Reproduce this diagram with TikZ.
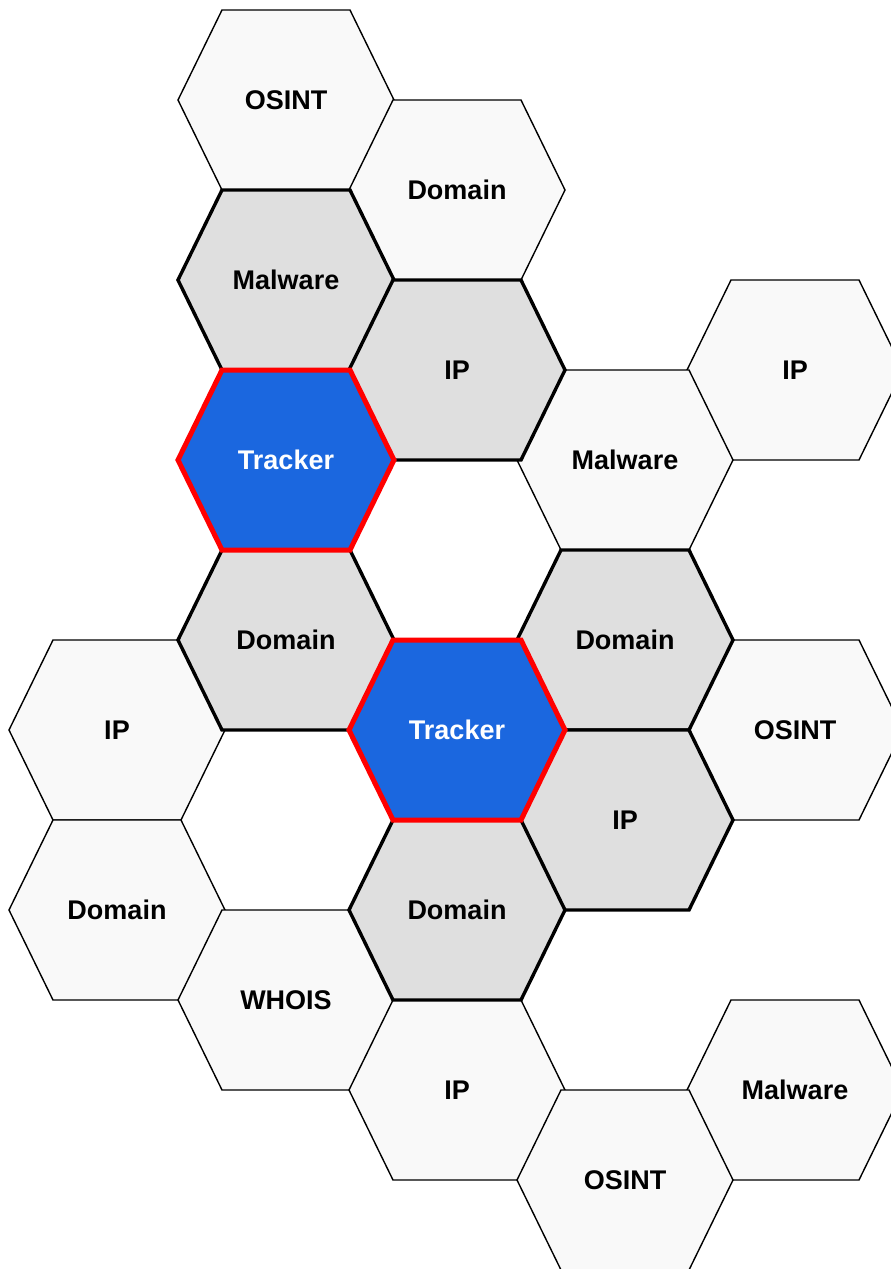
\documentclass[tikz,border=0pt]{standalone}
\usepackage{fontspec}
\setmainfont{Liberation Sans}
\definecolor{lightfill}{HTML}{F9F9F9}
\definecolor{grayfill}{HTML}{DFDFDF}
\definecolor{trackblue}{HTML}{1B67DF}
\definecolor{trackred}{HTML}{FF0000}
\tikzset{
  lighthex/.style={draw=black, fill=lightfill, line width=1.4pt, line join=miter},
  grayhex/.style={draw=black, fill=grayfill, line width=3.4pt, line join=miter},
  trackhex/.style={draw=trackred, fill=trackblue, line width=5pt, line join=miter},
  lbl/.style={font=\fontsize{27}{31}\selectfont\bfseries, text=black, inner sep=0pt},
  trklbl/.style={lbl, text=white},
}
% #1 name, #2 x, #3 y, #4 hex style, #5 label style, #6 text
\newcommand\hexcell[6]{%
  \begin{scope}[shift={(#2,#3)}]
    \draw[#4] (-108,0) -- (-64,-90) -- (64,-90) -- (108,0) -- (64,90) -- (-64,90) -- cycle;
    \node[#5] (#1) at (0,0) {#6};
  \end{scope}}
\begin{document}
\begin{tikzpicture}[x=1pt,y=-1pt]
\useasboundingbox (0,0) rectangle (891,1269);
\clip (0,0) rectangle (891,1269);
% light cells
\hexcell{osintA}{286}{100}{lighthex}{lbl}{OSINT}
\hexcell{domainA}{457}{190}{lighthex}{lbl}{Domain}
\hexcell{ipR}{795}{370}{lighthex}{lbl}{IP}
\hexcell{malwareR}{625}{460}{lighthex}{lbl}{Malware}
\hexcell{osintR}{795}{730}{lighthex}{lbl}{OSINT}
\hexcell{ipL}{117}{730}{lighthex}{lbl}{IP}
\hexcell{domainL}{117}{910}{lighthex}{lbl}{Domain}
\hexcell{whois}{286}{1000}{lighthex}{lbl}{WHOIS}
\hexcell{ipB}{457}{1090}{lighthex}{lbl}{IP}
\hexcell{malwareB}{795}{1090}{lighthex}{lbl}{Malware}
\hexcell{osintB}{625}{1180}{lighthex}{lbl}{OSINT}
% gray cells
\hexcell{malwareG}{286}{280}{grayhex}{lbl}{Malware}
\hexcell{ipG}{457}{370}{grayhex}{lbl}{IP}
\hexcell{domainG1}{286}{640}{grayhex}{lbl}{Domain}
\hexcell{domainG2}{625}{640}{grayhex}{lbl}{Domain}
\hexcell{ipG2}{625}{820}{grayhex}{lbl}{IP}
\hexcell{domainG3}{457}{910}{grayhex}{lbl}{Domain}
% trackers
\hexcell{trackerA}{286}{460}{trackhex}{trklbl}{Tracker}
\hexcell{trackerB}{457}{730}{trackhex}{trklbl}{Tracker}
\end{tikzpicture}
\end{document}
